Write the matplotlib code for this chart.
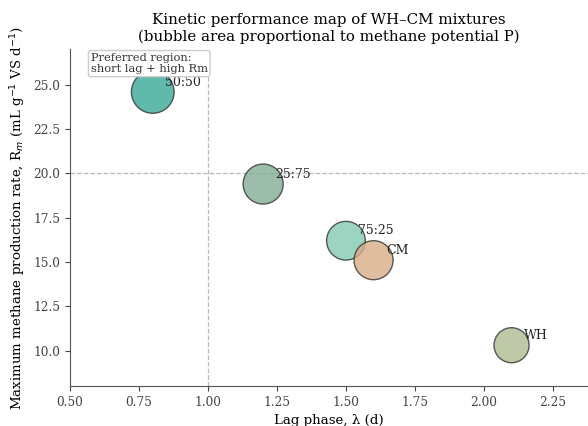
import matplotlib
matplotlib.use("Agg")
import matplotlib.pyplot as plt

plt.rcParams["font.family"] = "DejaVu Serif"

labels = ["50:50", "25:75", "75:25", "CM", "WH"]
lag = [0.80, 1.20, 1.50, 1.60, 2.10]
rm = [24.6, 19.4, 16.2, 15.1, 10.3]
potential = [315, 277, 259, 263, 212]
colors = ["#3aa898", "#84ad98", "#84c9b2", "#d8ad86", "#aebc92"]

fig = plt.figure(figsize=(5.88, 4.26), dpi=100)
ax = fig.add_axes([0.119, 0.094, 0.881, 0.79])

ax.scatter(lag, rm, s=[p * 3.0 for p in potential], c=colors, alpha=0.8,
           edgecolors="#333333", linewidths=1.0, zorder=3)
for x, y, lab in zip(lag, rm, labels):
    ax.annotate(lab, (x, y), xytext=(9, 7), textcoords="offset points",
                fontsize=9, ha="left", va="center", color="#222222", zorder=4)

ax.axvline(1.0, color="#bbbbbb", linestyle="--", linewidth=0.9, zorder=1)
ax.axhline(20.0, color="#bbbbbb", linestyle="--", linewidth=0.9, zorder=1)

ax.text(0.04, 0.99, "Preferred region:\nshort lag + high Rm", transform=ax.transAxes,
        fontsize=8.2, va="top", ha="left", color="#333333", zorder=5,
        bbox=dict(boxstyle="round,pad=0.2", facecolor="white", edgecolor="#cccccc"))

ax.set_xlim(0.5, 2.377)
ax.set_ylim(8.0, 27.0)
ax.set_xticks([0.5, 0.75, 1.0, 1.25, 1.5, 1.75, 2.0, 2.25])
ax.set_yticks([10.0, 12.5, 15.0, 17.5, 20.0, 22.5, 25.0])
ax.xaxis.set_major_formatter(matplotlib.ticker.FormatStrFormatter("%.2f"))
ax.yaxis.set_major_formatter(matplotlib.ticker.FormatStrFormatter("%.1f"))
ax.tick_params(labelsize=8.7, colors="#444444")
for side in ["top", "right"]:
    ax.spines[side].set_visible(False)
for side in ["left", "bottom"]:
    ax.spines[side].set_color("#555555")

ax.set_xlabel("Lag phase, λ (d)", fontsize=9.6)
ax.set_ylabel("Maximum methane production rate, R$_m$ (mL g$^{-1}$ VS d$^{-1}$)", fontsize=9.6)
ax.set_title("Kinetic performance map of WH–CM mixtures\n(bubble area proportional to methane potential P)",
             fontsize=10.8)

fig.savefig("out.png", dpi=100)
